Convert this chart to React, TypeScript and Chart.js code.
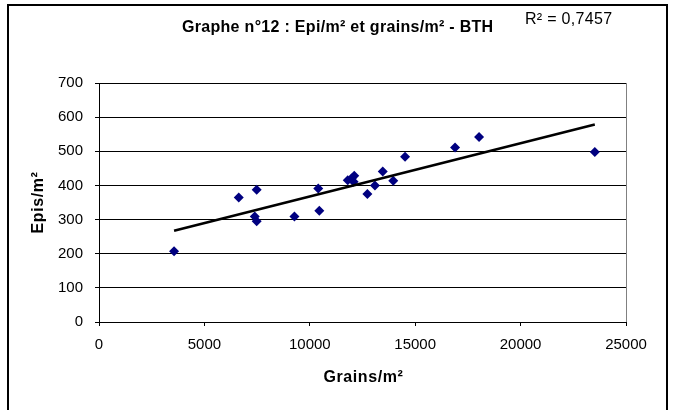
import React, { useEffect, useRef } from "react";
import { Chart, registerables } from "chart.js";

Chart.register(...registerables);

// Grains/m² (x) and Epis/m² (y)
const grainsPerM2 = [
  3560, 6630, 7480, 7390, 7480, 9270, 10400, 10450, 11800, 11980,
  12110, 12080, 12730, 13090, 13460, 13960, 14520, 16890, 18030, 23520,
];
const episPerM2 = [
  207, 365, 387, 309, 295, 309, 391, 326, 415, 420,
  428, 411, 375, 400, 441, 414, 484, 511, 542, 498,
];

const xTickValues = [0, 5000, 10000, 15000, 20000, 25000];
const yTickValues = [0, 100, 200, 300, 400, 500, 600, 700];

const chartTitle = "Graphe n°12 : Epi/m² et grains/m² - BTH";
const r2Label = "R² = 0,7457";
const xTitle = "Grains/m²";
const yTitle = "Epis/m²";

const FONT = "'Liberation Sans', Arial, sans-serif";

function linearFit(xs: number[], ys: number[]) {
  const n = xs.length;
  const mx = xs.reduce((s, v) => s + v, 0) / n;
  const my = ys.reduce((s, v) => s + v, 0) / n;
  let sxy = 0;
  let sxx = 0;
  for (let i = 0; i < n; i++) {
    sxy += (xs[i] - mx) * (ys[i] - my);
    sxx += (xs[i] - mx) * (xs[i] - mx);
  }
  const slope = sxy / sxx;
  return { slope, intercept: my - slope * mx };
}

function spacedText(ctx: any, text: string, x: number, y: number, spacing: number) {
  if ("letterSpacing" in ctx) {
    ctx.letterSpacing = `${spacing}px`;
    ctx.fillText(text, x, y);
    ctx.letterSpacing = "0px";
  } else {
    ctx.fillText(text, x, y);
  }
}

export default function App() {
  const ref = useRef<HTMLCanvasElement | null>(null);

  useEffect(() => {
    if (!ref.current) return;
    const points = grainsPerM2.map((x, i) => ({ x, y: episPerM2[i] }));
    const { slope, intercept } = linearFit(grainsPerM2, episPerM2);
    const minX = Math.min(...grainsPerM2);
    const maxX = Math.max(...grainsPerM2);
    const trend = [
      { x: minX, y: intercept + slope * minX },
      { x: maxX, y: intercept + slope * maxX },
    ];

    const deco = {
      id: "deco",
      beforeDraw(chart: any) {
        const ctx = chart.ctx;
        ctx.save();
        ctx.fillStyle = "#ffffff";
        ctx.fillRect(0, 0, chart.width, chart.height);
        ctx.restore();
      },
      afterDraw(chart: any) {
        const ctx = chart.ctx;
        const area = chart.chartArea;
        ctx.save();
        // plot area border (right side, grey)
        ctx.strokeStyle = "#808080";
        ctx.lineWidth = 1;
        ctx.beginPath();
        ctx.moveTo(Math.round(area.right) + 0.5, area.top);
        ctx.lineTo(Math.round(area.right) + 0.5, area.bottom);
        ctx.stroke();
        // outer chart border
        ctx.strokeStyle = "#000000";
        ctx.lineWidth = 2;
        ctx.strokeRect(8, 5, 659, 420);
        ctx.fillStyle = "#000000";
        ctx.textBaseline = "alphabetic";
        // title
        ctx.textAlign = "left";
        ctx.font = `bold 16px ${FONT}`;
        spacedText(ctx, chartTitle, 182, 31.5, 0.3);
        // R² label
        ctx.font = `16px ${FONT}`;
        spacedText(ctx, r2Label, 525, 24, 0.3);
        // x axis title
        ctx.font = `bold 16px ${FONT}`;
        ctx.textAlign = "center";
        spacedText(ctx, xTitle, (area.left + area.right) / 2 + 1, 382, 0.6);
        // y axis title
        ctx.translate(43, (area.top + area.bottom) / 2);
        ctx.rotate(-Math.PI / 2);
        spacedText(ctx, yTitle, 0, 0, 0.6);
        ctx.restore();
      },
    };

    const chart = new Chart(ref.current, {
      type: "scatter",
      data: {
        datasets: [
          {
            type: "line",
            data: trend,
            borderColor: "#000000",
            borderWidth: 2.6,
            pointRadius: 0,
            showLine: true,
            fill: false,
            order: 0,
          } as any,
          {
            data: points,
            pointStyle: "rectRot",
            pointRadius: 5,
            backgroundColor: "#000080",
            borderColor: "#000080",
            borderWidth: 0,
            order: 1,
          },
        ],
      },
      options: {
        responsive: false,
        animation: false,
        events: [],
        layout: { padding: { left: 0, right: 48, top: 83, bottom: 0 } },
        plugins: {
          legend: { display: false },
          title: { display: false },
          tooltip: { enabled: false },
        },
        scales: {
          x: {
            type: "linear",
            min: 0,
            max: 25000,
            afterFit: (s: any) => {
              s.height = 88;
            },
            afterBuildTicks: (s: any) => {
              s.ticks = xTickValues.map((v) => ({ value: v }));
            },
            ticks: {
              color: "#000000",
              font: { family: FONT, size: 15 },
              padding: 10,
              maxRotation: 0,
              callback: (v: any) => String(v),
            },
            grid: {
              drawOnChartArea: false,
              drawTicks: true,
              tickLength: 4,
              color: "#000000",
            },
            border: { color: "#000000", width: 1 },
            title: { display: false },
          },
          y: {
            type: "linear",
            min: 0,
            max: 700,
            afterFit: (s: any) => {
              s.width = 99;
            },
            afterBuildTicks: (s: any) => {
              s.ticks = yTickValues.map((v) => ({ value: v }));
            },
            ticks: {
              color: "#000000",
              font: { family: FONT, size: 15 },
              padding: 12,
              callback: (v: any) => String(v),
            },
            grid: {
              drawTicks: true,
              tickLength: 4,
              color: "#000000",
            },
            border: { color: "#000000", width: 1 },
            title: { display: false },
          },
        },
      },
      plugins: [deco],
    });

    return () => chart.destroy();
  }, []);

  return (
    <div
      style={{
        position: "absolute",
        left: 0,
        top: 0,
        width: 674,
        height: 410,
        background: "#ffffff",
      }}
    >
      <canvas
        ref={ref}
        width={674}
        height={410}
        style={{ display: "block", width: 674, height: 410 }}
      />
    </div>
  );
}
